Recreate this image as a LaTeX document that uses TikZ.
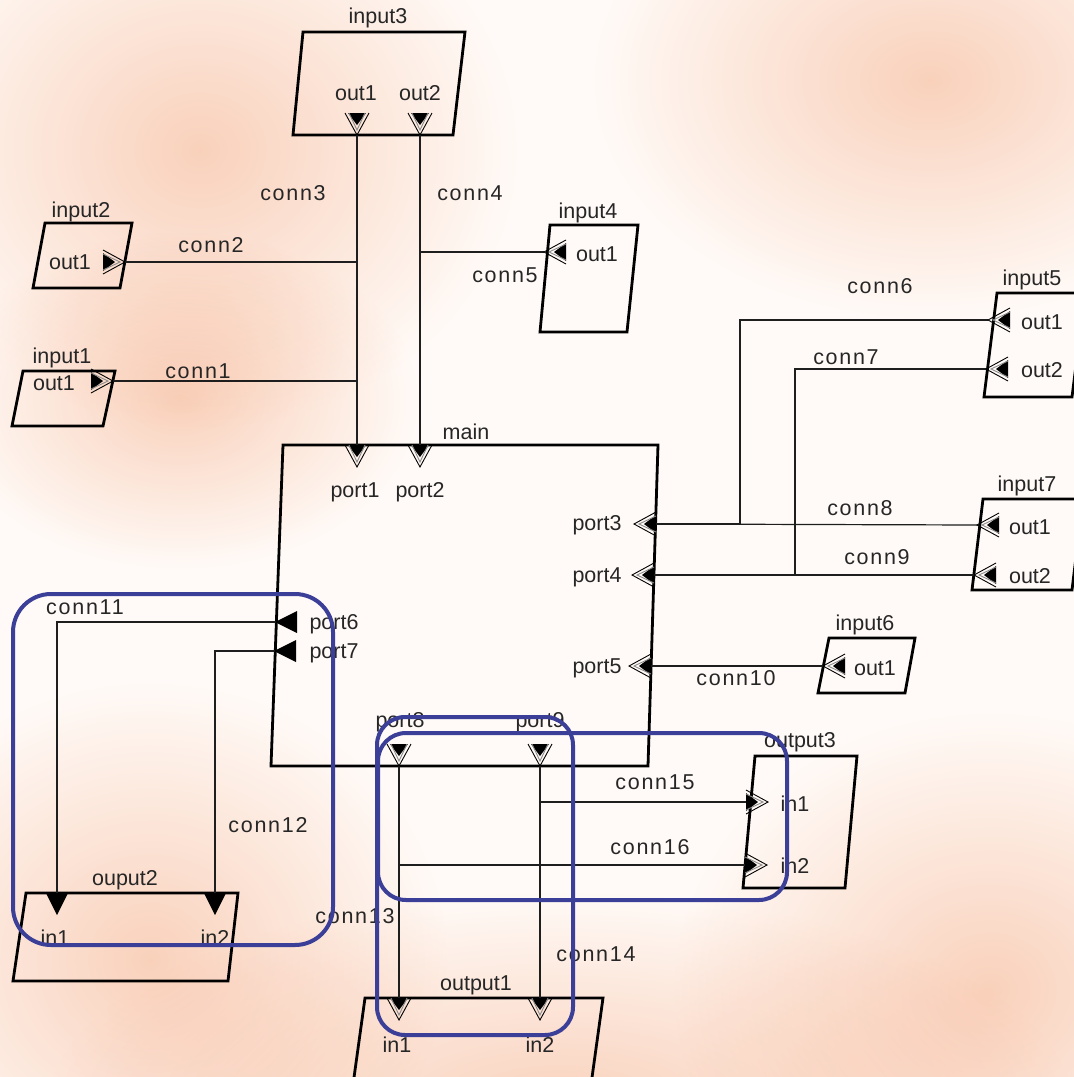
\documentclass[tikz,border=0pt]{standalone}
\usepackage{fontspec}
\setmainfont{Liberation Sans}
\newfontfamily\connfont[LetterSpace=8]{Liberation Sans}
\usepackage{tikz}
\usetikzlibrary{calc}
\definecolor{DiagInk}{HTML}{262626}
\definecolor{DiagWire}{HTML}{1E1E1E}
\definecolor{DiagPeach}{HTML}{F9D6C2}
\definecolor{DiagPaper}{HTML}{FFFAF7}
\definecolor{DiagBlue}{HTML}{3B3F98}
\definecolor{DiagGrey}{HTML}{8A8A8A}
\tikzset{
    % Block (parallelogram) outline
    blockline/.style={
        draw=black,
        line width=2.8pt,
        line join=miter
    },
    % Block name
    blockname/.style={
        text=DiagInk,
        inner sep=0pt,
        font=\fontsize{21.5}{23}\selectfont
    },
    % Port name
    portname/.style={
        blockname
    },
    % Connector name
    connname/.style={
        text=DiagInk,
        inner sep=0pt,
        font=\connfont\fontsize{21.5}{23}\selectfont
    },
    % Connector line
    wire/.style={
        draw=DiagWire,
        line width=1.2pt
    },
    % Short stub under a block name
    stub/.style={
        draw=black,
        line width=1.2pt
    },
    % Marker outline
    portline/.style={
        draw=black,
        line width=0.9pt
    },
    % Blue highlight frame
    hilite/.style={
        draw=DiagBlue,
        line width=4pt,
        rounded corners=34pt
    },
    % Background blob
    blob/.style={
        inner color=DiagPeach,
        outer color=white
    },
    % Port markers (origin at base, pointing +x)
    inport/.pic={
        \fill[black] (0,-9) -- (12,0) -- (0,9) -- cycle;
        \draw[portline] (0,-12) -- (22,0) -- (0,12);
        \draw[portline,draw=DiagGrey] (0,-8) -- (17,0) -- (0,8);
    },
    % (origin at tip)
    outport/.pic={
        \fill[black] (-22,-9) -- (-10,0) -- (-22,9) -- cycle;
        \draw[portline] (-22,-12) -- (0,0) -- (-22,12);
        \draw[portline,draw=DiagGrey] (-22,-8) -- (-5,0) -- (-22,8);
    },
    solidport/.pic={
        \fill[black] (0,-11) -- (22,0) -- (0,11) -- cycle;
    }
}
\begin{document}
\begin{tikzpicture}[x=1pt,y=-1pt]
    \useasboundingbox (0,0) rectangle (1074,1077);
    \clip (0,0) rectangle (1074,1077);

    % background
    \fill[DiagPaper] (0,0) rectangle (1074,1077);
    \begin{scope}[blend mode=multiply]
        \shade[blob] (200,150) ellipse (320 and 280);
        \shade[blob] (930,80) ellipse (340 and 240);
        \shade[blob] (180,400) ellipse (240 and 170);
        \shade[blob] (150,960) ellipse (300 and 280);
        \shade[blob] (990,990) ellipse (320 and 280);
        \shade[blob] (560,1110) ellipse (520 and 220);
    \end{scope}

    % blocks
    \draw[blockline] (303,32) -- (465,32) -- (453,135) -- (293,135) -- cycle;     % input3
    \draw[blockline] (45,223) -- (132,223) -- (120,288) -- (33,288) -- cycle;     % input2
    \draw[blockline] (23,371) -- (115,371) -- (103,426) -- (12,426) -- cycle;     % input1
    \draw[blockline] (550,225) -- (638,225) -- (627,332) -- (540,332) -- cycle;   % input4
    \draw[blockline] (997,293) -- (1085,293) -- (1072,397) -- (984,397) -- cycle; % input5
    \draw[blockline] (983,499) -- (1083,499) -- (1072,590) -- (972,590) -- cycle; % input7
    \draw[blockline] (829,638) -- (915,638) -- (905,693) -- (818,693) -- cycle;   % input6
    \draw[blockline] (283,445) -- (658,445) -- (648,766) -- (271,766) -- cycle;   % main
    \draw[blockline] (26,893) -- (238,893) -- (228,981) -- (13,981) -- cycle;     % ouput2
    \draw[blockline] (365,998) -- (603,998) -- (590,1092) -- (352,1092) -- cycle; % output1
    \draw[blockline] (755,756) -- (857,756) -- (845,888) -- (743,888) -- cycle;   % output3

    % block names
    \node[blockname] (n3) at (378,18) {input3};
    \node[blockname] (n2) at (81,212) {input2};
    \node[blockname] (n1) at (62,358) {input1};
    \node[blockname] (n4) at (588,213) {input4};
    \node[blockname] (n5) at (1032,280) {input5};
    \node[blockname] (n7) at (1027,486) {input7};
    \node[blockname] (n6) at (865,625) {input6};
    \node[blockname] (nm) at (466,432) {main};
    \node[blockname] (no2) at (125,880) {ouput2};
    \node[blockname] (no1) at (476,985) {output1};
    \node[blockname] (no3) at (800,742) {output3};

    \foreach \n/\y in {n3/32,n2/223,n1/371,n4/225,n5/293,n7/499,n6/638,no2/893,no1/998,no3/756}
        \draw[stub] ($(\n.south)+(-8,0)$) -- ($(\n.south)+(-8,0)$ |- 0,\y);

    % port points
    \coordinate (in1o1) at (113,381);
    \coordinate (in2o1) at (125,262);
    \coordinate (in3o1) at (357,135);
    \coordinate (in3o2) at (420,135);
    \coordinate (in4o1) at (544,252);
    \coordinate (in5o1) at (988,320);
    \coordinate (in5o2) at (986,369);
    \coordinate (in7o1) at (977,525);
    \coordinate (in7o2) at (974,575);
    \coordinate (in6o1) at (823,666);
    \coordinate (m1) at (357,445);
    \coordinate (m2) at (420,445);
    \coordinate (m3) at (656,524);
    \coordinate (m4) at (654,575);
    \coordinate (m5) at (651,666);
    \coordinate (m6) at (276,622);
    \coordinate (m7) at (275,651);
    \coordinate (m8) at (399,766);
    \coordinate (m9) at (540,766);
    \coordinate (ou2i1) at (57,893);
    \coordinate (ou2i2) at (215,893);
    \coordinate (ou1i1) at (399,998);
    \coordinate (ou1i2) at (540,998);
    \coordinate (ou3i1) at (746,802);
    \coordinate (ou3i2) at (745,865);
    \coordinate (j6) at (740,524);
    \coordinate (j7) at (795,575);

    % connectors
    \draw[wire] (in1o1) -| (m1);
    \draw[wire] (in2o1) -| (m1);
    \draw[wire] (in3o1) -- (m1);
    \draw[wire] (in3o2) -- (m2);
    \draw[wire] (in4o1) -| (m2);
    \draw[wire] (in5o1) -| (j6) -- (m3);
    \draw[wire] (in5o2) -| (j7) -- (m4);
    \draw[wire] (in7o1) -- (m3);
    \draw[wire] (in7o2) -- (m4);
    \draw[wire] (in6o1) -- (m5);
    \draw[wire] (m6) -| (ou2i1);
    \draw[wire] (m7) -| (ou2i2);
    \draw[wire] (m8) -- (ou1i1);
    \draw[wire] (m9) -- (ou1i2);
    \draw[wire] (m9) |- (ou3i1);
    \draw[wire] (m8) |- (ou3i2);

    % port markers
    \pic at (in1o1) {outport};
    \pic at (in2o1) {outport};
    \pic[rotate=-90] at (in3o1) {outport};
    \pic[rotate=-90] at (in3o2) {outport};
    \pic[rotate=180] at (in4o1) {outport};
    \pic[rotate=180] at (in5o1) {outport};
    \pic[rotate=180] at (in5o2) {outport};
    \pic[rotate=180] at (in7o1) {outport};
    \pic[rotate=180] at (in7o2) {outport};
    \pic[rotate=180] at (in6o1) {outport};
    \pic[rotate=-90] at (m1) {inport};
    \pic[rotate=-90] at (m2) {inport};
    \pic[rotate=180] at (m3) {inport};
    \pic[rotate=180] at (m4) {inport};
    \pic[rotate=180] at (m5) {inport};
    \pic[rotate=180] at ($(m6)+(21,0)$) {solidport};
    \pic[rotate=180] at ($(m7)+(21,0)$) {solidport};
    \pic[rotate=-90] at (m8) {outport};
    \pic[rotate=-90] at (m9) {outport};
    \pic[rotate=-90] at (ou2i1) {solidport};
    \pic[rotate=-90] at (ou2i2) {solidport};
    \pic[rotate=-90] at (ou1i1) {inport};
    \pic[rotate=-90] at (ou1i2) {inport};
    \pic at (ou3i1) {inport};
    \pic at (ou3i2) {inport};

    % port names
    \node[portname] (t3a) at (356,93) {out1};
    \node[portname] (t3b) at (420,93) {out2};
    \node[portname] (t2a) at (70,262) {out1};
    \node[portname] (t1a) at (54,383) {out1};
    \node[portname] (t4a) at (597,254) {out1};
    \node[portname] (t5a) at (1042,322) {out1};
    \node[portname] (t5b) at (1042,370) {out2};
    \node[portname] (t7a) at (1030,527) {out1};
    \node[portname] (t7b) at (1030,576) {out2};
    \node[portname] (t6a) at (875,668) {out1};
    \node[portname] (p1) at (355,492) {port1};
    \node[portname] (p2) at (420,492) {port2};
    \node[portname] (p3) at (597,525) {port3};
    \node[portname] (p4) at (597,577) {port4};
    \node[portname] (p5) at (597,668) {port5};
    \node[portname] (p6) at (334,624) {port6};
    \node[portname] (p7) at (334,653) {port7};
    \node[portname] (p8) at (400,722) {port8};
    \node[portname] (p9) at (540,722) {port9};
    \node[portname] (u2a) at (55,938) {in1};
    \node[portname] (u2b) at (215,938) {in2};
    \node[portname] (u1a) at (397,1045) {in1};
    \node[portname] (u1b) at (540,1045) {in2};
    \node[portname] (u3a) at (795,804) {in1};
    \node[portname] (u3b) at (795,866) {in2};

    % connector names
    \node[connname] (c1) at (198,371) {conn1};
    \node[connname] (c2) at (211,245) {conn2};
    \node[connname] (c3) at (293,193) {conn3};
    \node[connname] (c4) at (470,193) {conn4};
    \node[connname] (c5) at (505,275) {conn5};
    \node[connname] (c6) at (880,286) {conn6};
    \node[connname] (c7) at (846,357) {conn7};
    \node[connname] (c8) at (860,508) {conn8};
    \node[connname] (c9) at (877,557) {conn9};
    \node[connname] (c10) at (736,678) {conn10};
    \node[connname] (c11) at (85,607) {conn11};
    \node[connname] (c12) at (268,825) {conn12};
    \node[connname] (c13) at (355,916) {conn13};
    \node[connname] (c14) at (596,954) {conn14};
    \node[connname] (c15) at (655,782) {conn15};
    \node[connname] (c16) at (650,847) {conn16};

    % highlight frames
    \draw[hilite,rounded corners=38pt] (13,594) rectangle (333,945);
    \draw[hilite,rounded corners=28pt] (377,717) rectangle (573,1035);
    \draw[hilite,rounded corners=28pt] (378,733) rectangle (787,900);
\end{tikzpicture}
\end{document}
